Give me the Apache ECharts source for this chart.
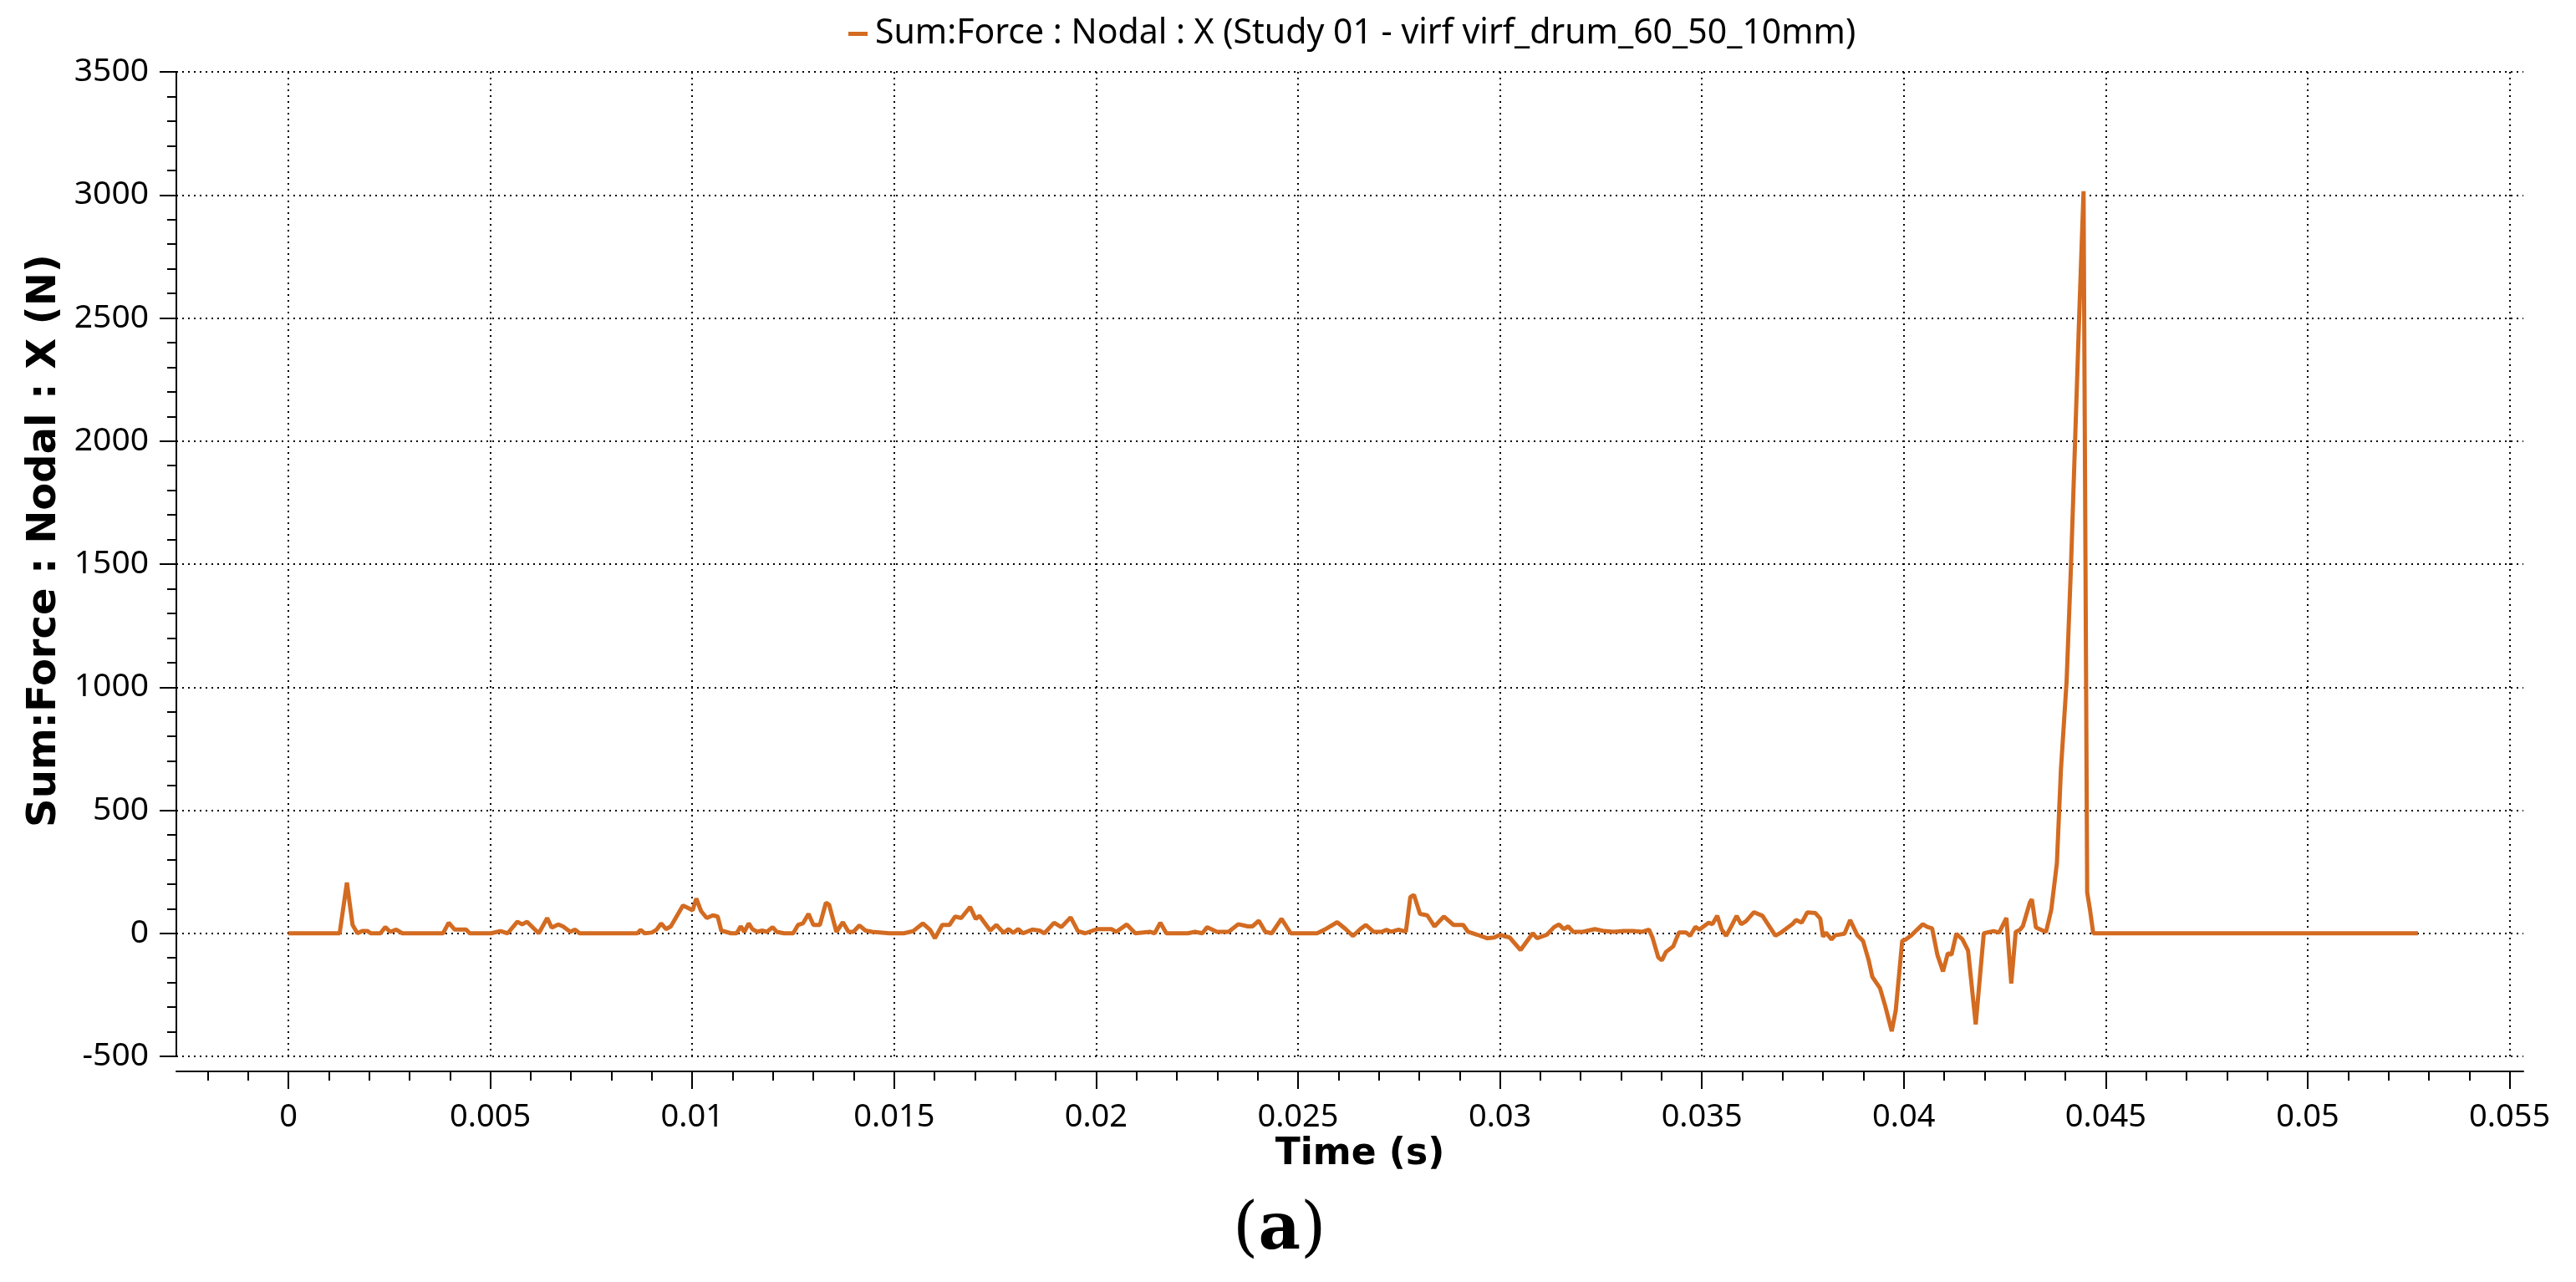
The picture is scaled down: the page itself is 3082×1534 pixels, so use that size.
<!DOCTYPE html>
<html>
<head>
<meta charset="utf-8">
<title>Sum:Force : Nodal : X</title>
<script src="https://cdn.jsdelivr.net/npm/echarts@6.0.0/dist/echarts.min.js"></script>
<style>
html,body{margin:0;padding:0;background:#fff;}
#main{width:3082px;height:1534px;}
</style>
</head>
<body>
<div id="main"></div>
<script>
// time (s) and nodal force sum X (N)
var timeS=[0,0.00127,0.00145,0.00159,0.00171,0.00183,0.00196,0.00204,0.00228,0.0024,0.00252,0.00267,0.00282,
0.00383,0.00397,0.00412,0.00427,0.0044,0.00449,0.00502,0.00525,0.00543,0.00567,0.00579,0.00591,0.0062,0.00641,
0.00652,0.00668,0.0068,0.00698,0.0071,0.00721,0.00864,0.00872,0.00882,0.009,0.00912,0.00923,0.00935,0.00947,
0.00959,0.00977,0.00991,0.01001,0.0101,0.01022,0.01036,0.01051,0.01063,0.01072,0.01096,0.0111,0.0112,0.01129,
0.0114,0.01149,0.01161,0.01173,0.01185,0.01199,0.01209,0.01227,0.0125,0.01262,0.01274,0.01288,0.013,0.01316,
0.01331,0.01339,0.01357,0.01373,0.01387,0.01399,0.01414,0.01429,0.01446,0.01488,0.01524,0.01547,0.01571,0.01589,
0.01601,0.01619,0.01637,0.01651,0.01666,0.01688,0.01702,0.01711,0.01738,0.01753,0.01771,0.01783,0.01795,0.01807,
0.01819,0.01842,0.0186,0.01872,0.01896,0.01914,0.01937,0.01955,0.01973,0.02002,0.02038,0.0205,0.02076,0.02097,
0.02133,0.02145,0.02159,0.02174,0.02227,0.02245,0.02263,0.02275,0.02299,0.02328,0.02352,0.02376,0.02387,0.02403,
0.02419,0.02435,0.02459,0.02482,0.02547,0.02565,0.02597,0.02618,0.02636,0.02654,0.02668,0.02687,0.02707,0.02719,
0.02731,0.02749,0.02767,0.02778,0.02787,0.02802,0.0282,0.02838,0.02861,0.02885,0.02909,0.02921,0.02944,0.02968,
0.02986,0.03,0.03009,0.03024,0.03051,0.03081,0.03092,0.03116,0.03134,0.03146,0.03158,0.03169,0.03181,0.03205,
0.03235,0.03258,0.03282,0.03306,0.03329,0.03353,0.03369,0.03378,0.03392,0.03401,0.03411,0.03429,0.03443,0.03461,
0.03471,0.03484,0.03494,0.03503,0.03517,0.03526,0.03538,0.03549,0.0356,0.03572,0.03586,0.03597,0.03609,0.03629,
0.0365,0.03682,0.03696,0.0371,0.03724,0.03733,0.03747,0.03761,0.03781,0.03793,0.038,0.03807,0.03821,0.0383,
0.03853,0.03867,0.03885,0.03899,0.03913,0.03922,0.03941,0.03954,0.0397,0.0398,0.03996,0.04005,0.04019,0.04033,
0.04047,0.04058,0.0407,0.04083,0.04097,0.04109,0.04118,0.0413,0.04145,0.04159,0.04178,0.04198,0.04222,0.04236,
0.04254,0.04266,0.04277,0.04288,0.04295,0.04312,0.04317,0.04327,0.04352,0.04365,0.04379,0.04389,0.04403,0.04414,
0.04424,0.04434,0.04445,0.04454,0.04461,0.04469,0.05273];
var forceN=[0,0,206,34,0,9,9,0,0,25,6,15,0,
0,43,15,15,15,0,0,9,0,47,36,47,0,62,
23,36,28,6,15,0,0,14,0,3,15,40,17,28,
62,113,102,93,141,90,62,73,68,11,0,0,28,6,
40,17,6,11,6,25,6,0,0,34,40,79,34,34,
124,116,6,45,6,6,32,11,6,0,0,9,40,14,
-20,34,34,68,62,107,58,71,11,34,2,17,2,17,
0,15,11,0,43,25,65,9,0,17,17,6,36,0,
6,0,43,0,0,6,0,25,6,6,37,28,28,51,
6,0,59,0,0,14,45,17,-11,17,34,6,6,14,
6,15,6,147,156,79,73,28,68,34,34,6,-6,-20,
-17,-6,-11,-17,-68,0,-20,-6,25,36,17,28,6,6,
17,9,6,9,9,6,15,-19,-98,-110,-76,-53,3,3,
-10,26,15,26,43,37,71,15,-10,26,71,37,49,86,
71,-10,3,20,37,54,43,85,82,60,-14,3,-25,-8,
-2,54,-8,-31,-110,-177,-223,-296,-398,-313,-31,-25,-8,15,
37,26,20,-87,-155,-81,-87,-2,-24,-70,-370,0,9,3,
62,-204,5,15,30,125,138,24,5,95,285,666,1023,1498,
1998,2497,3015,166,95,0,0];

var seriesName='Sum:Force : Nodal : X (Study 01 - virf virf_drum_60_50_10mm)';
var xName='Time (s)';
var yName='Sum:Force : Nodal : X (N)';
var yMin=-500,yMax=3500,yStep=500;
var xMin=0,xMax=0.055,xStep=0.005,xMinor=0.001;

// layout: pixel position of t=0 and pixels per second on the page
var x0px=345,pxPerSec=48320;
var plotLeft=211,plotRight=3019,plotTop=86,plotBottom=1264;
var W=3082,H=1534;
function secAt(px){return (px-x0px)/pxPerSec;}
function pxAt(t){return x0px+t*pxPerSec;}

var data=[];
for(var i=0;i<timeS.length;i++) data.push([timeS[i],forceN[i]]);

var tickFont='Noto Sans';
var lineCol='#d36b21';
var dotted={color:'#000',width:2,type:[2,5]};
var blackLine={color:'#000',width:2};
var gridV={top:plotTop,bottom:H-plotBottom};

var myChart=echarts.init(document.getElementById('main'),null,{renderer:'canvas'});
var option={
  backgroundColor:'#fff',
  animation:false,
  title:{
    text:'{p|(}{b|a}{p|)}',
    left:1470,top:1430,
    textStyle:{
      rich:{
        p:{fontFamily:'DejaVu Serif',fontSize:78,color:'#000',fontWeight:'normal'},
        b:{fontFamily:'DejaVu Serif',fontSize:78,color:'#000',fontWeight:'bold'}
      }
    }
  },
  legend:{
    data:[seriesName],
    left:1010,top:15,
    icon:'rect',itemWidth:23,itemHeight:5,
    textStyle:{fontFamily:tickFont,fontSize:41,color:'#000',padding:[0,0,0,4]}
  },
  grid:[
    {left:plotLeft,right:W-plotRight,top:gridV.top,bottom:gridV.bottom},
    {left:pxAt(xMin),right:W-pxAt(xMax),top:gridV.top,bottom:gridV.bottom},
    {left:pxAt(-2*xMinor),right:W-pxAt(0),top:gridV.top,bottom:gridV.bottom}
  ],
  xAxis:[
    {
      gridIndex:0,type:'value',min:secAt(plotLeft),max:secAt(plotRight),
      position:'bottom',offset:18,
      axisLine:{show:true,onZero:false,lineStyle:blackLine},
      axisTick:{show:false},axisLabel:{show:false},splitLine:{show:false},
      name:xName,nameLocation:'middle',nameGap:78,
      nameTextStyle:{fontFamily:'DejaVu Sans',fontWeight:'bold',fontSize:44,color:'#000',padding:[0,0,0,24]}
    },
    {
      gridIndex:1,type:'value',min:xMin,max:xMax,interval:xStep,
      position:'bottom',offset:18,
      axisLine:{show:false,onZero:false},
      axisTick:{show:true,length:21,lineStyle:blackLine},
      minorTick:{show:true,splitNumber:5,length:11,lineStyle:blackLine},
      axisLabel:{show:true,margin:36,fontFamily:tickFont,fontSize:38,color:'#000'},
      splitLine:{show:true,lineStyle:dotted}
    },
    {
      gridIndex:2,type:'value',min:-2*xMinor,max:0,interval:xMinor,
      position:'bottom',offset:18,
      axisLine:{show:false,onZero:false},
      axisTick:{show:true,length:11,lineStyle:blackLine},
      axisLabel:{show:false},splitLine:{show:false}
    }
  ],
  yAxis:[
    {
      gridIndex:0,type:'value',min:yMin,max:yMax,interval:yStep,
      axisLine:{show:true,onZero:false,lineStyle:blackLine},
      axisTick:{show:true,length:20,lineStyle:blackLine},
      minorTick:{show:true,splitNumber:5,length:11,lineStyle:blackLine},
      axisLabel:{margin:33,fontFamily:tickFont,fontSize:39,color:'#000',
        formatter:function(v){return String(v);}},
      splitLine:{show:true,lineStyle:dotted},
      name:yName,nameLocation:'middle',nameRotate:90,nameGap:94,
      nameTextStyle:{fontFamily:'DejaVu Sans',fontWeight:'bold',fontSize:48,color:'#000',padding:[0,0,0,56]}
    },
    {gridIndex:1,type:'value',min:yMin,max:yMax,show:false},
    {gridIndex:2,type:'value',min:yMin,max:yMax,show:false}
  ],
  series:[
    {
      name:seriesName,type:'line',xAxisIndex:0,yAxisIndex:0,
      data:data,showSymbol:false,symbol:'none',
      lineStyle:{color:lineCol,width:5},
      itemStyle:{color:lineCol}
    }
  ]
};
myChart.setOption(option);
</script>
</body>
</html>
